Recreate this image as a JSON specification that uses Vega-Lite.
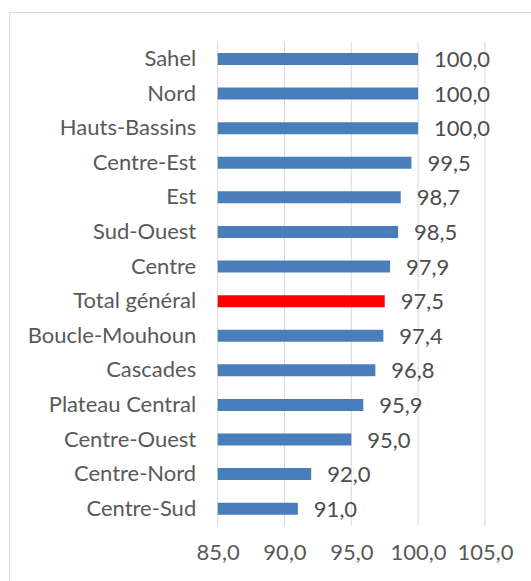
{
  "$schema": "https://vega.github.io/schema/vega-lite/v6.json",
  "autosize": "none",
  "width": 522,
  "height": 569,
  "padding": {"left": 9, "top": 12, "right": 0, "bottom": 0},
  "config": {
    "view": {"stroke": "#d9d9d9", "strokeWidth": 1, "strokeDash": [522, 1091, 569, 2]},
    "font": "Lato",
    "locale": {"number": {"decimal": ",", "thousands": " ", "grouping": [3], "currency": ["", " €"]}}
  },
  "data": {"values": [
    {"region": "Sahel", "value": 100.0},
    {"region": "Nord", "value": 100.0},
    {"region": "Hauts-Bassins", "value": 100.0},
    {"region": "Centre-Est", "value": 99.5},
    {"region": "Est", "value": 98.7},
    {"region": "Sud-Ouest", "value": 98.5},
    {"region": "Centre", "value": 97.9},
    {"region": "Total général", "value": 97.5},
    {"region": "Boucle-Mouhoun", "value": 97.4},
    {"region": "Cascades", "value": 96.8},
    {"region": "Plateau Central", "value": 95.9},
    {"region": "Centre-Ouest", "value": 95.0},
    {"region": "Centre-Nord", "value": 92.0},
    {"region": "Centre-Sud", "value": 91.0}
  ]},
  "layer": [
    {
      "data": {"values": [{"v": 85}, {"v": 90}, {"v": 95}, {"v": 100}, {"v": 105}]},
      "mark": {"type": "rule", "color": "#d9d9d9", "strokeWidth": 1},
      "encoding": {
        "x": {"field": "v", "type": "quantitative",
          "scale": {"domain": [85, 105], "range": [208.7, 475.9], "zero": false, "nice": false},
          "axis": {"orient": "bottom", "offset": -55, "values": [85, 90, 95, 100, 105], "format": ".1f",
            "grid": false, "ticks": false, "domain": false, "labelPadding": 16, "labelFontSize": 22,
            "labelOverlap": false, "labelFlush": false, "labelBound": false, "labelColor": "#595959", "title": null}},
        "y": {"datum": 0, "type": "quantitative", "scale": {"domain": [0, 1], "range": [29.7, 514]}, "axis": null},
        "y2": {"datum": 1}
      }
    },
    {
      "mark": {"type": "bar"},
      "encoding": {
        "y": {"field": "region", "type": "nominal", "sort": null,
          "scale": {"range": [29.7, 514], "paddingInner": 0.653, "paddingOuter": 0.3265},
          "axis": {"orient": "left", "offset": -208.7, "domain": false, "ticks": false, "grid": false,
            "labelPadding": 22, "labelFontSize": 22, "labelColor": "#595959", "title": null}},
        "x": {"field": "value", "type": "quantitative"},
        "x2": {"datum": 85},
        "color": {"condition": {"test": "datum.region === 'Total général'", "value": "#ff0000"}, "value": "#4a7ebb"}
      }
    },
    {
      "mark": {"type": "text", "align": "left", "baseline": "middle", "dx": 16, "dy": 1, "fontSize": 22, "color": "#4d4d4d"},
      "encoding": {
        "y": {"field": "region", "type": "nominal", "sort": null,
          "scale": {"range": [29.7, 514], "paddingInner": 0.653, "paddingOuter": 0.3265}, "axis": null},
        "x": {"field": "value", "type": "quantitative"},
        "text": {"field": "value", "type": "quantitative", "format": ".1f"}
      }
    }
  ],
  "resolve": {"scale": {"y": "independent"}}
}
